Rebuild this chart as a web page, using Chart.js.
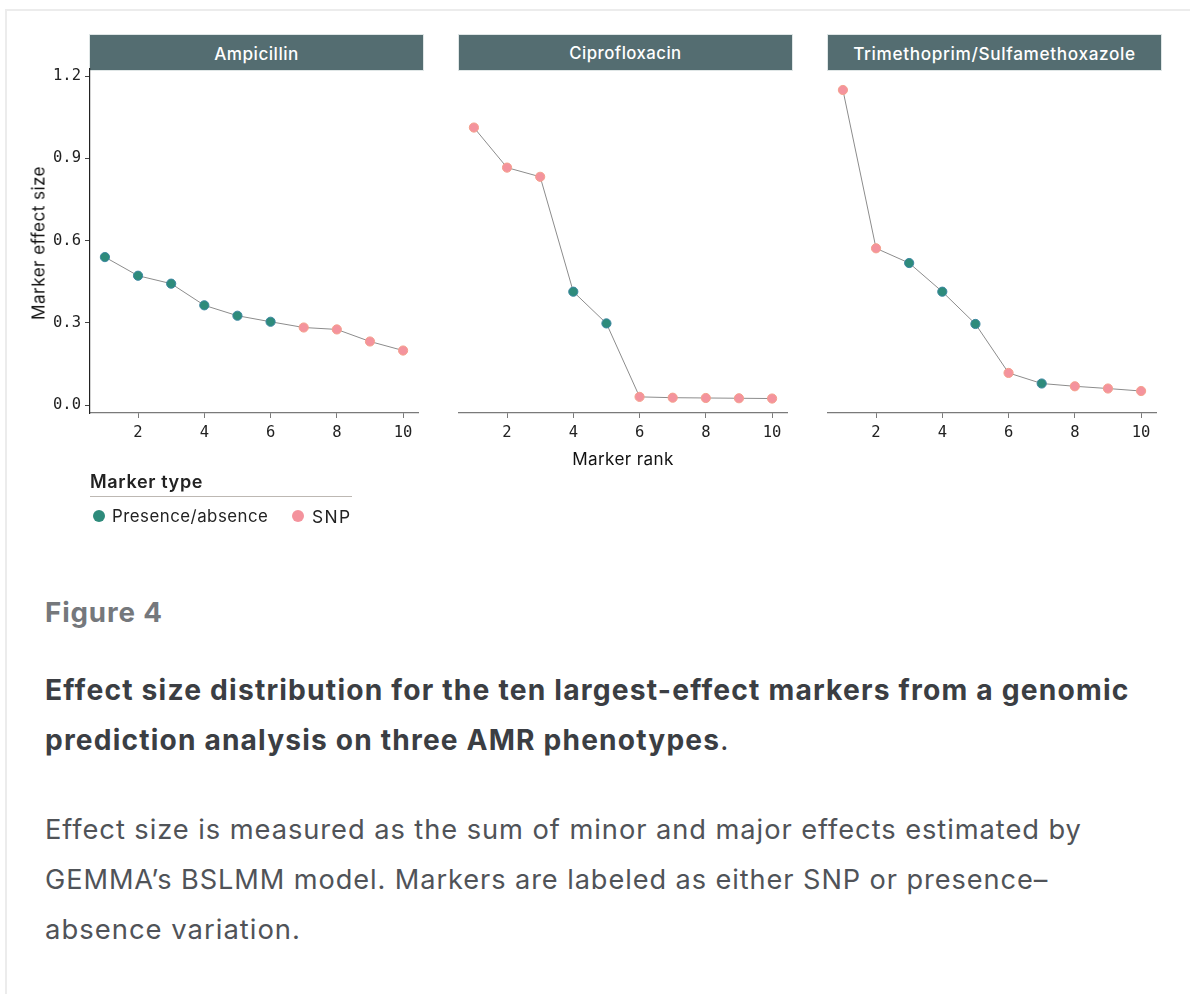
<!DOCTYPE html>
<html>
<head>
<meta charset="utf-8">
<script src="https://cdn.jsdelivr.net/npm/chart.js@4.4.1/dist/chart.umd.min.js"></script>
<style>
  html, body { margin: 0; padding: 0; background: #fff; }
  body { width: 1190px; height: 994px; position: relative; overflow: hidden; font-family: "Inter", "Liberation Sans", sans-serif; }
  .frame { position: absolute; left: 5px; top: 9px; width: 1200px; height: 1000px; border: 2px solid #ececec; box-sizing: border-box; }
  canvas.panel { position: absolute; }
  .strip { position: absolute; top: 35px; height: 35px; width: 333px; background: #546d71; color: #fff; font-size: 16px; font-weight: 500; text-align: center; box-shadow: 0 0 0 1px #dfe6e6; }
  .strip span { position: absolute; left: 50%; top: 50%; transform: translate(-50%, -50%); white-space: nowrap; }
  .ytitle { position: absolute; left: 38px; top: 243px; transform: translate(-50%, -50%) rotate(-90deg); font-size: 16.5px; color: #111; white-space: nowrap; }
  .xtitle { position: absolute; left: 623px; top: 458px; transform: translate(-50%, -50%); font-size: 16.5px; color: #111; white-space: nowrap; }
  .legtitle { position: absolute; left: 90px; top: 481px; transform: translateY(-50%); font-size: 17px; font-weight: 600; color: #222; white-space: nowrap; }
  .legline { position: absolute; left: 90px; top: 496px; width: 262px; height: 1px; background: #bdb8b3; }
  .legitem { position: absolute; top: 516px; transform: translateY(-50%); font-size: 16px; color: #222; white-space: nowrap; }
  .dot { position: absolute; top: 510px; width: 12px; height: 12px; border-radius: 50%; }
  .fig { position: absolute; left: 45px; top: 612px; transform: translateY(-50%); font-size: 26px; font-weight: 700; color: #75787c; white-space: nowrap; }
  .ttl { position: absolute; left: 45px; transform: translateY(-50%); font-size: 26px; font-weight: 700; color: #3b3e43; white-space: nowrap; }
  .body { position: absolute; left: 45px; transform: translateY(-50%); font-size: 25.5px; font-weight: 400; color: #505358; white-space: nowrap; }
</style>
</head>
<body>
<div class="frame"></div>

<div class="strip" style="left:90px"><span class="fit" data-w="85">Ampicillin</span></div>
<div class="strip" style="left:459px"><span class="fit" data-w="112">Ciprofloxacin</span></div>
<div class="strip" style="left:828px"><span class="fit" data-w="283">Trimethoprim/Sulfamethoxazole</span></div>

<canvas class="panel" id="c1" width="410" height="425" style="left:20px; top:55px; width:410px; height:425px;"></canvas>
<canvas class="panel" id="c2" width="410" height="425" style="left:389px; top:55px; width:410px; height:425px;"></canvas>
<canvas class="panel" id="c3" width="410" height="425" style="left:758px; top:55px; width:410px; height:425px;"></canvas>

<div class="ytitle fit" data-w="154">Marker effect size</div>
<div class="xtitle fit" data-w="101">Marker rank</div>

<div class="legtitle fit" data-w="113">Marker type</div>
<div class="legline"></div>
<div class="dot" style="left:93px; background:#2e8b7b"></div>
<div class="legitem fit" style="left:112px" data-w="156">Presence/absence</div>
<div class="dot" style="left:292px; background:#f4939d"></div>
<div class="legitem fit" style="left:312px" data-w="39">SNP</div>

<div class="fig fit" data-w="118">Figure 4</div>
<div class="ttl fit" style="top:690px" data-w="1085">Effect size distribution for the ten largest-effect markers from a genomic</div>
<div class="ttl fit" style="top:740px" data-w="684">prediction analysis on three AMR phenotypes<span style="font-weight:400">.</span></div>
<div class="body fit" style="top:829px" data-w="1037">Effect size is measured as the sum of minor and major effects estimated by</div>
<div class="body fit" style="top:879px" data-w="1003">GEMMA’s BSLMM model. Markers are labeled as either SNP or presence–</div>
<div class="body fit" style="top:929px" data-w="256">absence variation.</div>

<script>
// ---- data ----
const panels = ["Ampicillin", "Ciprofloxacin", "Trimethoprim/Sulfamethoxazole"];
const ranks = [1, 2, 3, 4, 5, 6, 7, 8, 9, 10];
const ampicillinEffect = [0.540, 0.472, 0.443, 0.364, 0.326, 0.304, 0.283, 0.276, 0.232, 0.199];
const ampicillinType = ["PA", "PA", "PA", "PA", "PA", "PA", "SNP", "SNP", "SNP", "SNP"];
const ciprofloxacinEffect = [0.997, 0.853, 0.820, 0.407, 0.293, 0.029, 0.026, 0.025, 0.024, 0.023];
const ciprofloxacinType = ["SNP", "SNP", "SNP", "PA", "PA", "SNP", "SNP", "SNP", "SNP", "SNP"];
const tmpSmxEffect = [1.132, 0.563, 0.510, 0.407, 0.291, 0.115, 0.077, 0.067, 0.059, 0.050];
const tmpSmxType = ["SNP", "SNP", "PA", "PA", "PA", "SNP", "PA", "SNP", "SNP", "SNP"];
const xTicks = [2, 4, 6, 8, 10];
const yTicks = [0.0, 0.3, 0.6, 0.9, 1.2];
const typeLabels = { PA: "Presence/absence", SNP: "SNP" };

// ---- styles ----
const fillColor = { PA: "#2e8b7b", SNP: "#f4939d" };
const edgeColor = { PA: "#3b86a0", SNP: "#f4a08c" };
const monoFont = { family: "'DejaVu Sans Mono', 'Liberation Mono', monospace", size: 15.5 };

function makePanel(canvasId, values, types, showY) {
  const data = ranks.map((r, i) => ({ x: r, y: values[i] }));
  return new Chart(document.getElementById(canvasId), {
    type: "line",
    data: {
      datasets: [{
        label: "effect",
        data: data,
        borderColor: "#8c8c8c",
        borderWidth: 1,
        pointRadius: 4.6,
        pointHoverRadius: 4.6,
        pointBorderWidth: 1,
        pointBackgroundColor: types.map(t => fillColor[t]),
        pointBorderColor: types.map(t => edgeColor[t]),
        tension: 0,
        fill: false
      }]
    },
    options: {
      responsive: false,
      animation: false,
      events: [],
      layout: { padding: { top: 8, right: 12, left: 0, bottom: 0 } },
      plugins: { legend: { display: false }, tooltip: { enabled: false }, title: { display: false } },
      scales: {
        x: {
          type: "linear",
          min: 0.55, max: 10.45,
          afterBuildTicks: s => { s.ticks = xTicks.map(v => ({ value: v })); },
          afterFit: s => { s.height = 67; },
          border: { display: true, color: "#7a7a7a", width: 1.2 },
          grid: { display: true, drawOnChartArea: false, drawTicks: true, tickLength: 5, color: "#7a7a7a" },
          ticks: { color: "#222", font: monoFont, padding: 6, maxRotation: 0, callback: v => String(v) }
        },
        y: {
          type: "linear",
          min: -0.029, max: 1.229,
          afterBuildTicks: s => { s.ticks = yTicks.map(v => ({ value: v })); },
          afterFit: s => { s.width = 70; },
          border: { display: showY, color: "#222", width: 1.2 },
          grid: { display: showY, drawOnChartArea: false, drawTicks: true, tickLength: 5, color: "#444" },
          ticks: { display: showY, color: "#222", font: monoFont, padding: 4, callback: v => Number(v).toFixed(1) }
        }
      }
    }
  });
}

makePanel("c1", ampicillinEffect, ampicillinType, true);
makePanel("c2", ciprofloxacinEffect, ciprofloxacinType, false);
makePanel("c3", tmpSmxEffect, tmpSmxType, false);

// fit text widths to the reference layout: grow the font part of the way, then letter-spacing
function fitAll() {
  document.querySelectorAll(".fit").forEach(el => {
    const target = parseFloat(el.dataset.w);
    if (!el.dataset.fs) el.dataset.fs = parseFloat(getComputedStyle(el).fontSize);
    const fs0 = parseFloat(el.dataset.fs);
    el.style.letterSpacing = "0px";
    el.style.fontSize = fs0 + "px";
    const w0 = el.offsetWidth;
    const f = Math.min(1.12, Math.max(0.92, Math.sqrt(target / w0)));
    el.style.fontSize = (fs0 * f) + "px";
    const w = el.offsetWidth;
    const n = el.textContent.length;
    if (n > 0) el.style.letterSpacing = ((target - w) / n) + "px";
  });
}
fitAll();
if (document.fonts && document.fonts.ready) document.fonts.ready.then(fitAll);
</script>
</body>
</html>
